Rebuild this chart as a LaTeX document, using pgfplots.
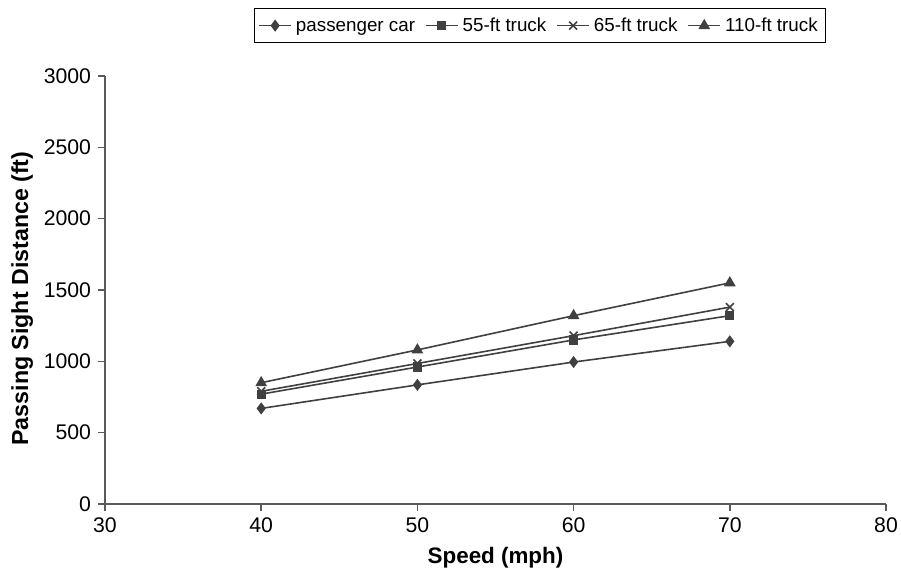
\documentclass[border=0pt]{standalone}
\usepackage{fontspec}
\setmainfont{Liberation Sans}
\usepackage{pgfplots}
\pgfplotsset{compat=1.18}
\definecolor{ln}{HTML}{404040}
\definecolor{ax}{HTML}{5A5A5A}

\begin{document}
\begin{tikzpicture}[font=\fontsize{10.6}{12}\selectfont]
\begin{axis}[
    scale only axis,
    width=390.5pt, height=214pt,
    xmin=30, xmax=80, ymin=0, ymax=3000,
    xtick={30,40,...,80},
    ytick={0,500,...,3000},
    axis lines*=left,
    axis line style={ax, line width=0.8pt},
    tick style={ax, line width=0.8pt},
    tick align=outside,
    major tick length=3.5pt,
    /pgf/number format/assume math mode=true,
    /pgf/number format/1000 sep={},
    xlabel={\bfseries Speed (mph)},
    ylabel={\bfseries Passing Sight Distance (ft)},
    xlabel style={at={(axis description cs:0.5,-0.126)}, anchor=center, font=\fontsize{11.2}{13}\selectfont},
    ylabel style={at={(axis description cs:-0.106,0.48)}, anchor=center, font=\fontsize{11.6}{13}\selectfont},
    legend columns=-1,
    legend style={at={(rel axis cs:0.557,1.159)}, anchor=north, draw=black,
        line width=0.5pt, inner sep=2pt, font=\fontsize{9.4}{11}\selectfont,
        /tikz/every even column/.append style={column sep=3pt}},
    legend image code/.code={\draw[mark repeat=2,mark phase=2] plot coordinates {(0pt,0pt) (8pt,0pt) (16pt,0pt)};},
]
\addplot[ln, line width=0.8pt, mark=diamond*, mark size=2.4pt, mark options={fill=ln}] coordinates {(40,670) (50,835) (60,995) (70,1140)};
\addlegendentry{\strut passenger car}
\addplot[ln, line width=0.8pt, mark=square*, mark size=1.9pt, mark options={fill=ln}] coordinates {(40,770) (50,960) (60,1150) (70,1320)};
\addlegendentry{\strut 55-ft truck}
\addplot[ln, line width=0.8pt, mark=x, mark size=2.8pt] coordinates {(40,790) (50,985) (60,1180) (70,1380)};
\addlegendentry{\strut 65-ft truck}
\addplot[ln, line width=0.8pt, mark=triangle*, mark size=2.6pt, mark options={fill=ln}] coordinates {(40,850) (50,1080) (60,1320) (70,1550)};
\addlegendentry{\strut 110-ft truck}
\end{axis}
\pgfresetboundingbox
\path (current axis.south west) ++(-52.5pt,-33.5pt) coordinate (bl);
\path (current axis.north east) ++(7.5pt,38pt) coordinate (tr);
\path (bl) rectangle (tr);
\end{tikzpicture}
\end{document}
